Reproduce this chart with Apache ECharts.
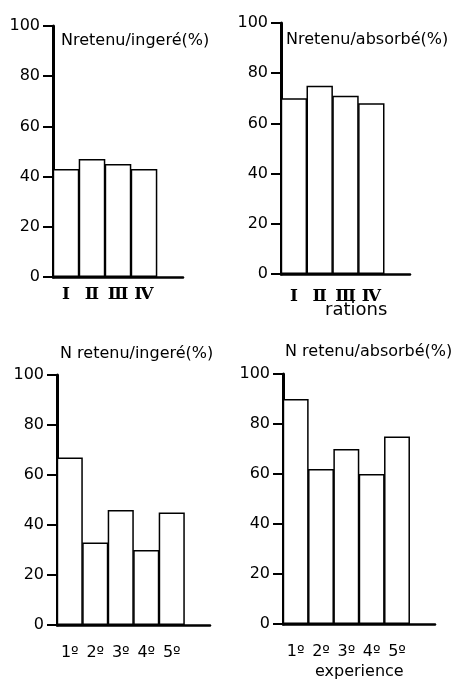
<!DOCTYPE html>
<html>
<head>
<meta charset="utf-8">
<script src="https://cdn.jsdelivr.net/npm/echarts@6/dist/echarts.min.js"></script>
<style>
  html, body { margin: 0; padding: 0; background: #fff; }
  #chart { width: 466px; height: 683px; }
</style>
</head>
<body>
<div id="chart"></div>
<script>
// rations (top) and experiences (bottom), last empty slot keeps the axis running past the bars
var rations = ['Ⅰ', 'Ⅱ', 'Ⅲ', 'Ⅳ', ''];
var experiences = ['1º', '2º', '3º', '4º', '5º', ''];
var rationIngere = [43, 47, 45, 43];
var rationAbsorbe = [70, 75, 71, 68];
var expIngere = [67, 33, 46, 30, 45];
var expAbsorbe = [90, 62, 70, 60, 75];
var yTicks = [0, 20, 40, 60, 80, 100];

var chart = echarts.init(document.getElementById('chart'));
var font = 'DejaVu Sans';

var grids = [
    { left: 53, top: 26, width: 130, height: 251 },
    { left: 281, top: 23, width: 129, height: 251 },
    { left: 57, top: 375, width: 153, height: 250 },
    { left: 283, top: 374, width: 152, height: 250 }
];

function xAx(idx, cats, margin, family, size, weight) {
    return {
        type: 'category', gridIndex: idx, data: cats,
        axisLine: { lineStyle: { color: '#000', width: 2.5 } },
        axisTick: { show: false },
        axisLabel: { color: '#000', fontSize: size, margin: margin, fontFamily: family, fontWeight: weight || 'normal', interval: 0 }
    };
}
function yAx(idx) {
    return {
        type: 'value', gridIndex: idx, min: 0, max: 100, interval: 20,
        splitLine: { show: false },
        axisLine: { show: true, lineStyle: { color: '#000', width: 3 } },
        axisTick: { show: true, length: 10, lineStyle: { color: '#000', width: 2 } },
        axisLabel: {
            color: '#000', fontSize: 16, fontFamily: font, margin: 13,
            formatter: function (v) { return yTicks.indexOf(v) >= 0 ? String(v) : ''; }
        }
    };
}
function bars(idx, data, nCats) {
    return {
        type: 'bar', xAxisIndex: idx, yAxisIndex: idx, data: data,
        barWidth: grids[idx].width / nCats + 0.6, silent: true,
        itemStyle: { color: '#fff', borderColor: '#000', borderWidth: 1.5 }
    };
}
function txt(text, left, top, size) {
    return {
        text: text, left: left, top: top, padding: 0,
        textStyle: { color: '#000', fontSize: size || 16, fontWeight: 'normal', fontFamily: font }
    };
}

chart.setOption({
    backgroundColor: '#fff',
    animation: false,
    title: [
        txt('Nretenu/ingeré(%)', 61, 33),
        txt('Nretenu/absorbé(%)', 286, 32),
        txt('N retenu/ingeré(%)', 60, 346),
        txt('N retenu/absorbé(%)', 285, 344),
        txt('rations', 325, 301, 18),
        txt('experience', 315, 664, 16)
    ],
    grid: grids,
    xAxis: [
        xAx(0, rations, 9, 'DejaVu Serif', 17, 'bold'),
        xAx(1, rations, 14, 'DejaVu Serif', 17, 'bold'),
        xAx(2, experiences, 20, font, 16),
        xAx(3, experiences, 20, font, 16)
    ],
    yAxis: [yAx(0), yAx(1), yAx(2), yAx(3)],
    series: [
        bars(0, rationIngere, rations.length),
        bars(1, rationAbsorbe, rations.length),
        bars(2, expIngere, experiences.length),
        bars(3, expAbsorbe, experiences.length)
    ]
});
</script>
</body>
</html>
